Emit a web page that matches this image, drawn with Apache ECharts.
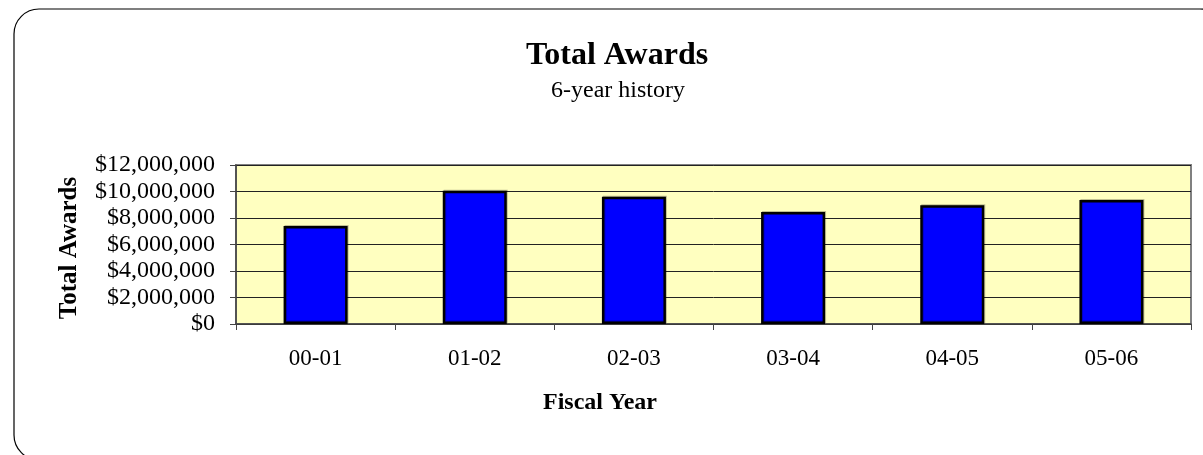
<!DOCTYPE html>
<html>
<head>
<meta charset="utf-8">
<script src="https://cdn.jsdelivr.net/npm/echarts@6/dist/echarts.min.js"></script>
<style>
html,body{margin:0;padding:0;background:#fff;}
#chart{width:1203px;height:455px;}
</style>
</head>
<body>
<div id="chart"></div>
<script>
const categories = ['00-01', '01-02', '02-03', '03-04', '04-05', '05-06'];
const totalAwards = [7400000, 10060000, 9610000, 8450000, 8960000, 9360000];
const yTicks = [0, 2000000, 4000000, 6000000, 8000000, 10000000, 12000000];

const FONT = '"Liberation Serif", "Times New Roman", serif';
const chart = echarts.init(document.getElementById('chart'), null, {renderer: 'canvas'});

chart.setOption({
  backgroundColor: '#ffffff',
  animation: false,
  grid: {
    left: 236, right: 12, top: 165, bottom: 131,
    show: true, backgroundColor: '#FFFFC0', borderColor: '#808080', borderWidth: 2
  },
  xAxis: {
    type: 'category',
    data: categories,
    boundaryGap: true,
    axisLine: {show: true, lineStyle: {color: '#444', width: 1.5}},
    axisTick: {show: true, interval: 0, length: 6, inside: false, lineStyle: {color: '#444'}},
    axisLabel: {color: '#000', fontFamily: FONT, fontSize: 23, margin: 23, interval: 0},
    splitLine: {show: false}
  },
  yAxis: {
    type: 'value',
    min: yTicks[0],
    max: yTicks[yTicks.length - 1],
    interval: yTicks[1] - yTicks[0],
    axisLine: {show: true, lineStyle: {color: '#444', width: 1.5}},
    axisTick: {show: true, length: 6, lineStyle: {color: '#444'}},
    axisLabel: {
      color: '#000', fontFamily: FONT, fontSize: 24, margin: 21,
      formatter: v => '$' + v.toLocaleString('en-US')
    },
    splitLine: {show: true, lineStyle: {color: '#222', width: 1}}
  },
  series: [{
    type: 'bar',
    data: totalAwards,
    barWidth: 64,
    itemStyle: {color: '#0000FF', borderColor: '#000', borderWidth: 2.5,
      shadowColor: 'rgba(0,0,0,0.25)', shadowBlur: 0, shadowOffsetX: 1, shadowOffsetY: -1}
  }],
  graphic: [
    {type: 'rect', shape: {x: 14, y: 9, width: 1211, height: 451, r: 25},
     style: {fill: null, stroke: '#000', lineWidth: 1.2}, silent: true, z: 100},
    {type: 'text', x: 617, y: 56, style: {text: 'Total Awards', font: 'bold 32px ' + FONT, fill: '#000', align: 'center', verticalAlign: 'middle'}},
    {type: 'text', x: 618, y: 91, style: {text: '6-year history', font: '24px ' + FONT, fill: '#000', align: 'center', verticalAlign: 'middle'}},
    {type: 'text', x: 600, y: 403, style: {text: 'Fiscal Year', font: 'bold 24px ' + FONT, fill: '#000', align: 'center', verticalAlign: 'middle'}},
    {type: 'text', x: 70, y: 248, rotation: Math.PI / 2, style: {text: 'Total Awards', font: 'bold 25px ' + FONT, fill: '#000', align: 'center', verticalAlign: 'middle'}}
  ]
});
</script>
</body>
</html>
